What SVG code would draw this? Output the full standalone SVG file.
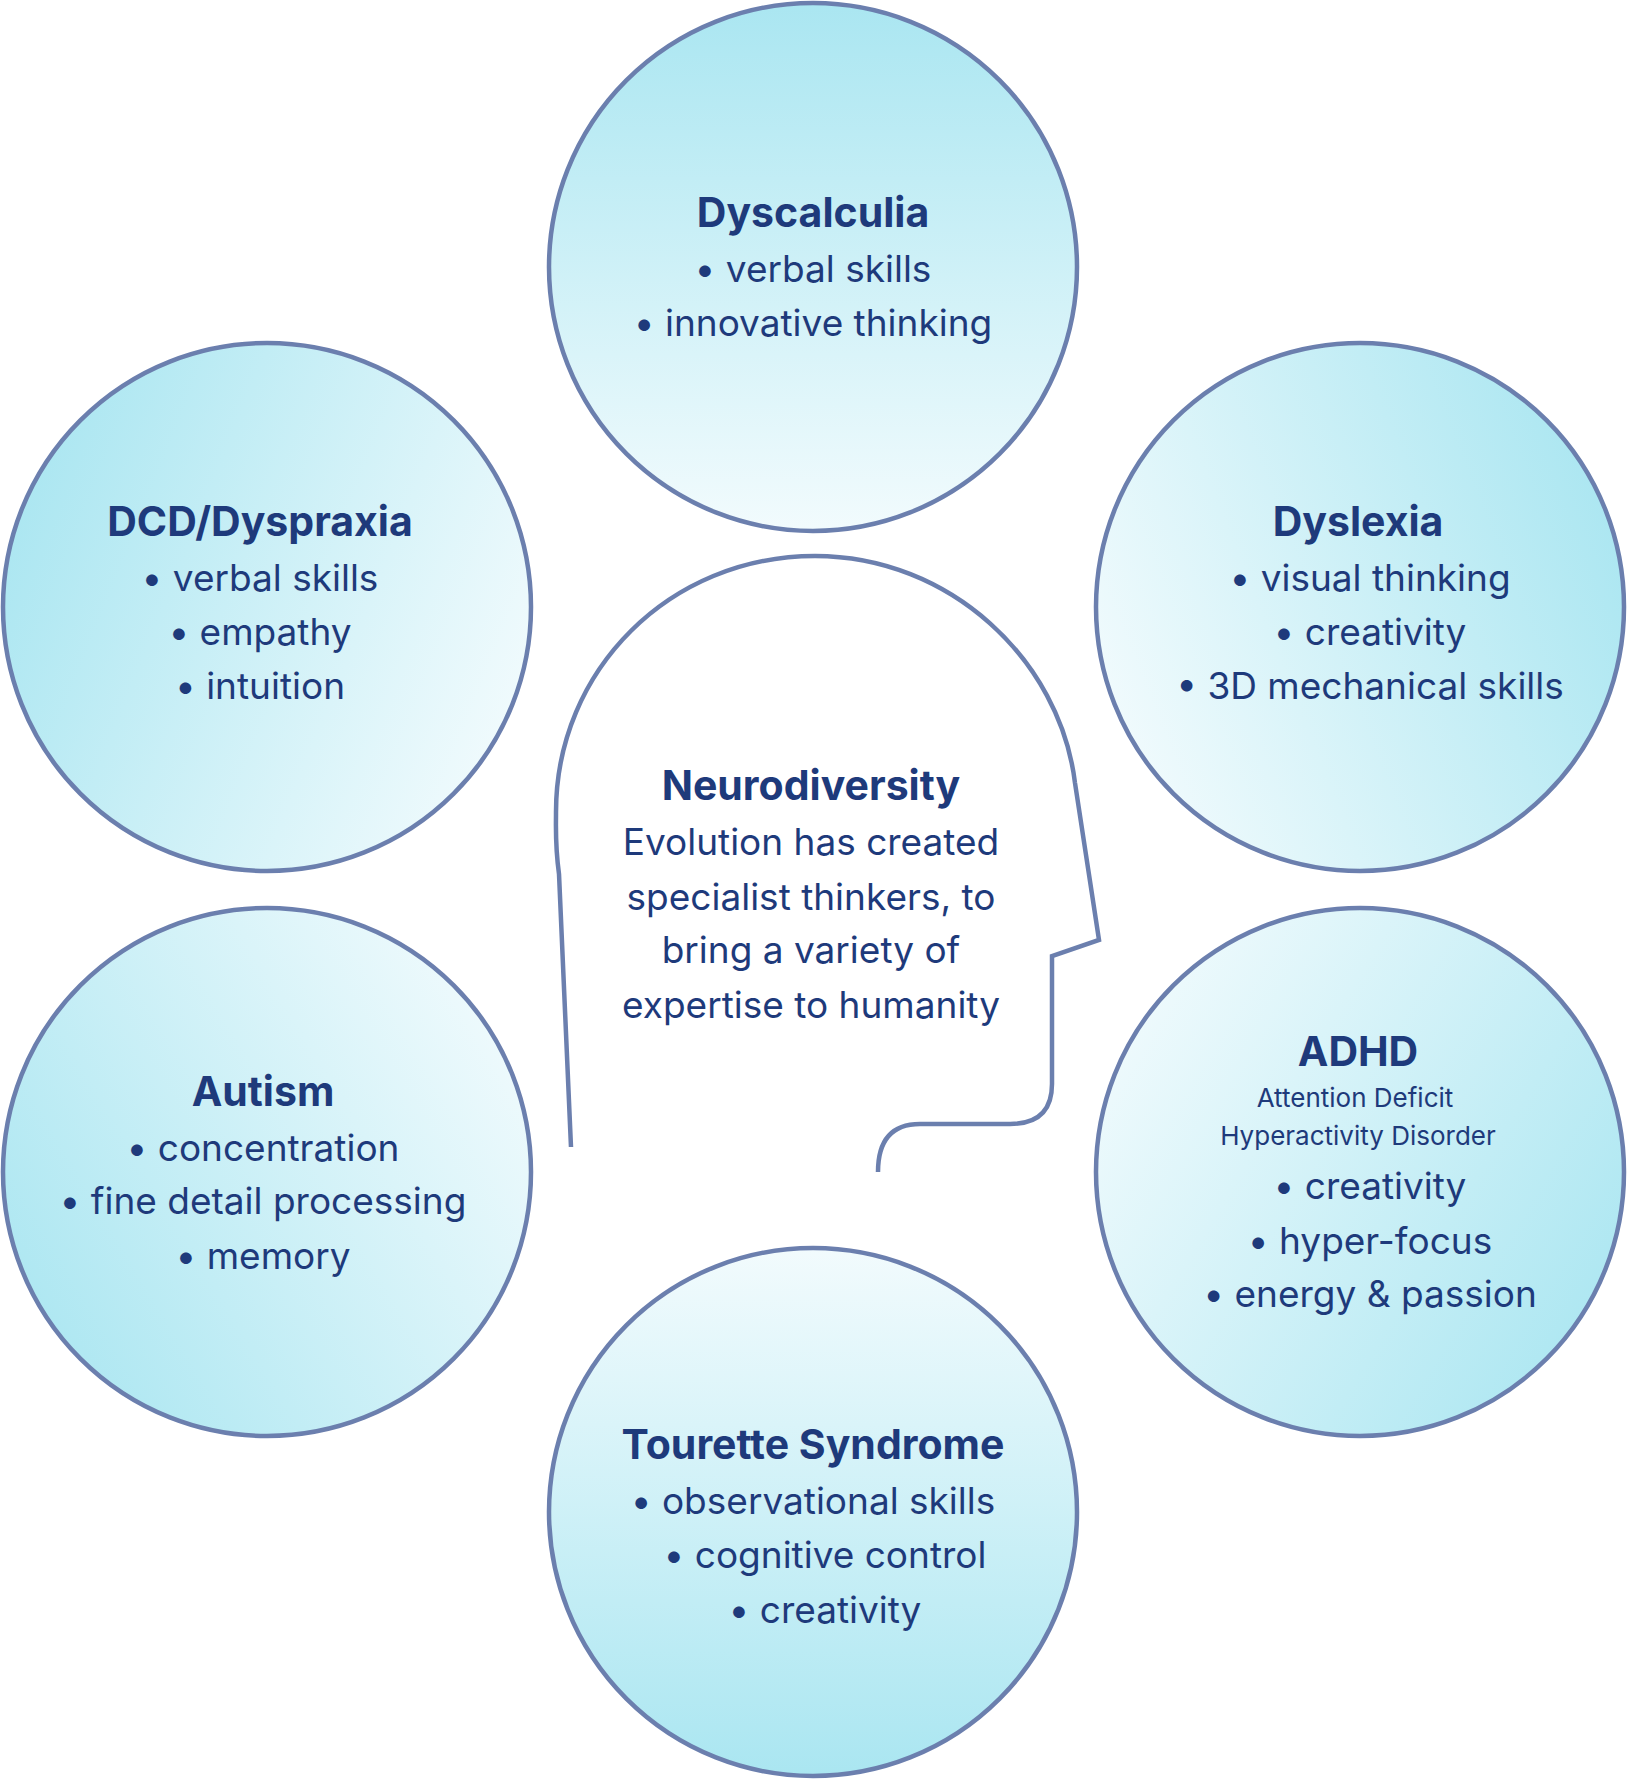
<svg xmlns="http://www.w3.org/2000/svg" width="1628" height="1781" viewBox="0 0 1628 1781">
<style>
.c{stroke:#6b7fae;stroke-width:4.5}
text{font-family:Inter,"DejaVu Sans",sans-serif;fill:#1e3a7b;text-anchor:middle;dominant-baseline:central}
.t{font-weight:700;font-size:41px}
.b{font-size:37px}
.s{font-size:26px}
</style>
<defs>
<linearGradient id="gT" x1="0" y1="0" x2="0" y2="1"><stop offset="0" stop-color="#aae6f1"/><stop offset="1" stop-color="#f2fbfd"/></linearGradient>
<linearGradient id="gB" x1="0" y1="1" x2="0" y2="0"><stop offset="0" stop-color="#aae6f1"/><stop offset="1" stop-color="#f2fbfd"/></linearGradient>
<linearGradient id="gL" x1="0" y1="0.3" x2="1" y2="0.7"><stop offset="0" stop-color="#aae6f1"/><stop offset="1" stop-color="#f2fbfd"/></linearGradient>
<linearGradient id="gR" x1="1" y1="0.3" x2="0" y2="0.7"><stop offset="0" stop-color="#aae6f1"/><stop offset="1" stop-color="#f2fbfd"/></linearGradient>
<linearGradient id="gBL" x1="0" y1="0.8" x2="1" y2="0.2"><stop offset="0" stop-color="#aae6f1"/><stop offset="1" stop-color="#f2fbfd"/></linearGradient>
<linearGradient id="gBR" x1="1" y1="0.8" x2="0" y2="0.2"><stop offset="0" stop-color="#aae6f1"/><stop offset="1" stop-color="#f2fbfd"/></linearGradient>
</defs>
<g id="head"><path d="M571,1147 L559,874 C555,845 556,830 556,812 C556,670 670,556 815,556 C950,556 1060,660 1075,783 L1099,940 L1052,956 L1052,1084 Q1052,1124 1010,1124 L920,1124 Q878,1124 878,1172" fill="none" class="c"/>
<text class="t" x="811" y="785">Neurodiversity</text>
<text class="b" x="811" y="841">Evolution has created</text>
<text class="b" x="811" y="896">specialist thinkers, to</text>
<text class="b" x="811" y="949">bring a variety of</text>
<text class="b" x="811" y="1004">expertise to humanity</text></g>
<g id="dyscalculia"><circle cx="813" cy="267" r="264" fill="url(#gT)" class="c"/>
<text class="t" x="813" y="212">Dyscalculia</text>
<text class="b" x="813" y="268">• verbal skills</text>
<text class="b" x="813" y="322">• innovative thinking</text></g>
<g id="dcd"><circle cx="267" cy="607" r="264" fill="url(#gL)" class="c"/>
<text class="t" x="260" y="521">DCD/Dyspraxia</text>
<text class="b" x="260" y="577">• verbal skills</text>
<text class="b" x="260" y="631">• empathy</text>
<text class="b" x="260" y="685">• intuition</text></g>
<g id="dyslexia"><circle cx="1360" cy="607" r="264" fill="url(#gR)" class="c"/>
<text class="t" x="1358" y="521">Dyslexia</text>
<text class="b" x="1370" y="577">• visual thinking</text>
<text class="b" x="1370" y="631">• creativity</text>
<text class="b" x="1370" y="685">• 3D mechanical skills</text></g>
<g id="autism"><circle cx="267" cy="1172" r="264" fill="url(#gBL)" class="c"/>
<text class="t" x="263" y="1091">Autism</text>
<text class="b" x="263" y="1147">• concentration</text>
<text class="b" x="263" y="1200">• fine detail processing</text>
<text class="b" x="263" y="1255">• memory</text></g>
<g id="adhd"><circle cx="1360" cy="1172" r="264" fill="url(#gBR)" class="c"/>
<text class="t" x="1358" y="1051">ADHD</text>
<text class="s" x="1355" y="1097">Attention Deficit</text>
<text class="s" x="1358" y="1135">Hyperactivity Disorder</text>
<text class="b" x="1370" y="1185">• creativity</text>
<text class="b" x="1370" y="1240">• hyper-focus</text>
<text class="b" x="1370" y="1293">• energy &amp; passion</text></g>
<g id="tourette"><circle cx="813" cy="1512" r="264" fill="url(#gB)" class="c"/>
<text class="t" x="813" y="1444">Tourette Syndrome</text>
<text class="b" x="813" y="1500">• observational skills</text>
<text class="b" x="825" y="1554">• cognitive control</text>
<text class="b" x="825" y="1609">• creativity</text></g>
<g id="connectors"/>
</svg>
